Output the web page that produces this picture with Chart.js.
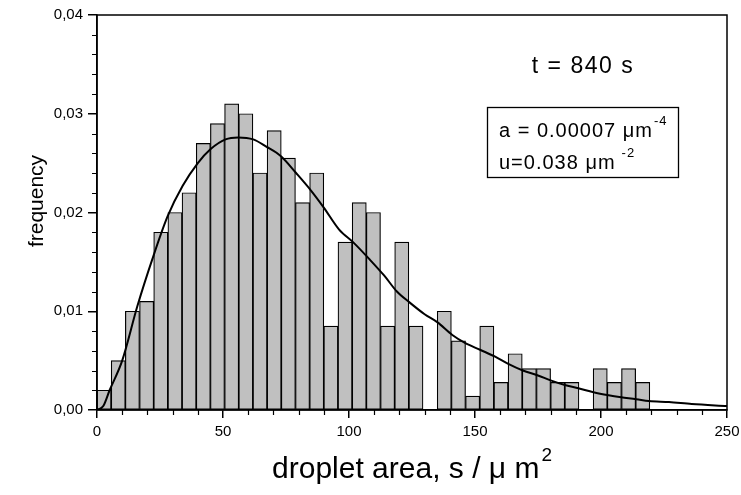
<!DOCTYPE html>
<html lang="en">
<head>
    <meta charset="UTF-8">
    <title>Droplet area distribution, t = 840 s</title>
    <script src="https://cdn.jsdelivr.net/npm/chart.js"></script>
    <style>
        html, body { margin: 0; padding: 0; background: #fff; }
        .chart-wrapper { width: 741px; height: 495px; }
    </style>
</head>
<body>
    <div class="chart-wrapper">
        <canvas id="dropletChart"></canvas>
    </div>

    <script>
        // histogram bins (centre of each bin, s / um^2) and frequencies
        const binCenters = [2.81, 8.44, 14.06, 19.69, 25.31, 30.94, 36.56, 42.19, 47.81, 53.44,
            59.06, 64.69, 70.31, 75.94, 81.56, 87.19, 92.81, 98.44, 104.06, 109.69,
            115.31, 120.94, 126.56, 132.19, 137.81, 143.44, 149.06, 154.69, 160.31, 165.94,
            171.56, 177.19, 182.81, 188.44, 194.06, 199.69, 205.31, 210.94, 216.56];
        const frequency = [0.0020, 0.0050, 0.0100, 0.0110, 0.0180, 0.0200, 0.0220, 0.0270, 0.0290, 0.0310,
            0.0300, 0.0240, 0.0283, 0.0255, 0.0210, 0.0240, 0.0085, 0.0170, 0.0210, 0.0200,
            0.0085, 0.0170, 0.0085, 0, 0.0100, 0.0070, 0.0014, 0.0085, 0.0028, 0.0057,
            0.0042, 0.0042, 0.0028, 0.0028, 0, 0.0042, 0.0028, 0.0042, 0.0028];

        // fitted curve
        const fitX = [0, 2.5, 5, 10, 16, 22, 28, 34, 40, 45, 51, 56, 62, 67, 73, 79, 85, 90, 96, 102,
            108, 114, 119, 124, 130, 135, 141, 146, 152, 158, 163, 169, 175, 180, 186, 191,
            197, 203, 208, 214, 219, 227, 236, 250];
        const fitY = [0, 0.0004, 0.0020, 0.0050, 0.0105, 0.0153, 0.0196, 0.0227, 0.0250, 0.0264, 0.0274, 0.0276,
            0.0274, 0.0267, 0.0257, 0.0240, 0.0222, 0.0205, 0.0183, 0.0169,
            0.0153, 0.0136, 0.0120, 0.0109, 0.0097, 0.0089, 0.0076, 0.0068, 0.0061, 0.0054,
            0.0047, 0.0040, 0.0035, 0.0030, 0.0025, 0.0022, 0.0018, 0.0015, 0.0013, 0.0011,
            0.0009, 0.0008, 0.0006, 0.0004];

        const xTicks = { min: 0, max: 250, step: 50, minorStep: 10 };
        const yTicks = { min: 0, max: 0.04, step: 0.01, minorStep: 0.002 };

        const FONT = '"Liberation Sans", Arial, sans-serif';

        // text with a raised exponent
        function supText(ctx, main, sup, x, y, size, supSize, rise, gap, align, spacing) {
            ctx.letterSpacing = (spacing || 0) + 'px';
            ctx.font = size + 'px ' + FONT;
            const w1 = ctx.measureText(main).width;
            ctx.font = supSize + 'px ' + FONT;
            const w2 = ctx.measureText(sup).width;
            let start = x;
            if (align === 'center') start = x - (w1 + gap + w2) / 2;
            ctx.textAlign = 'left';
            ctx.font = size + 'px ' + FONT;
            ctx.fillText(main, start, y);
            ctx.font = supSize + 'px ' + FONT;
            ctx.fillText(sup, start + w1 + gap, y - rise);
            ctx.letterSpacing = '0px';
        }

        const frameAndText = {
            id: 'frameAndText',
            afterDraw(chart) {
                const { ctx, chartArea: a, scales: { x, y } } = chart;
                ctx.save();
                ctx.strokeStyle = '#000';
                ctx.fillStyle = '#000';

                // box round the plot
                ctx.lineWidth = 1.5;
                ctx.strokeRect(a.left, a.top, a.right - a.left, a.bottom - a.top);

                // minor ticks
                ctx.lineWidth = 1.2;
                ctx.beginPath();
                for (let v = xTicks.min; v <= xTicks.max; v += xTicks.minorStep) {
                    if (v % xTicks.step === 0) continue;
                    const px = Math.round(x.getPixelForValue(v)) + 0.5;
                    ctx.moveTo(px, a.bottom);
                    ctx.lineTo(px, a.bottom + 5);
                }
                for (let i = 1; i < 20; i++) {
                    if (i % 5 === 0) continue;
                    const py = Math.round(y.getPixelForValue(i * yTicks.minorStep)) + 0.5;
                    ctx.moveTo(a.left, py);
                    ctx.lineTo(a.left - 5, py);
                }
                ctx.stroke();

                // axis titles
                ctx.textBaseline = 'alphabetic';
                supText(ctx, 'droplet area, s / \u03bc m', '2', (a.left + a.right) / 2, 478, 30, 19, 17, 2, 'center');

                ctx.save();
                ctx.translate(43, 201);
                ctx.rotate(-Math.PI / 2);
                ctx.font = '21px ' + FONT;
                ctx.textAlign = 'center';
                ctx.fillText('frequency', 0, 0);
                ctx.restore();

                // time label
                ctx.letterSpacing = '1.5px';
                ctx.font = '23px ' + FONT;
                ctx.textAlign = 'center';
                ctx.fillText('t = 840 s', 583, 73);
                ctx.letterSpacing = '0px';

                // parameter box
                ctx.lineWidth = 1.3;
                ctx.strokeRect(487.5, 107.5, 191, 70);
                supText(ctx, 'a = 0.00007 \u03bcm', '-4', 499, 137, 20, 13, 12, 1, 'left', 1);
                supText(ctx, 'u=0.038 \u03bcm', '-2', 499, 169, 20, 13, 12, 6, 'left', 1);

                ctx.restore();
            }
        };

        new Chart(document.getElementById('dropletChart').getContext('2d'), {
            data: {
                datasets: [{
                    type: 'line',
                    data: fitX.map((v, i) => ({ x: v, y: fitY[i] })),
                    borderColor: '#000',
                    borderWidth: 2,
                    pointRadius: 0,
                    cubicInterpolationMode: 'monotone',
                    order: 0
                }, {
                    type: 'bar',
                    data: binCenters.map((v, i) => ({ x: v, y: frequency[i] })),
                    backgroundColor: '#c0c0c0',
                    borderColor: '#000',
                    borderWidth: 1.2,
                    borderSkipped: false,
                    barPercentage: 1,
                    categoryPercentage: 1,
                    order: 1
                }]
            },
            options: {
                responsive: true,
                maintainAspectRatio: false,
                animation: false,
                layout: { padding: { left: 0, top: 15, right: 14, bottom: 0 } },
                plugins: { legend: { display: false }, tooltip: { enabled: false } },
                scales: {
                    x: {
                        type: 'linear',
                        offset: false,
                        min: xTicks.min,
                        max: xTicks.max,
                        afterFit: s => { s.height = 85; s.paddingLeft = 0; s.paddingRight = 0; },
                        grid: { offset: false, drawOnChartArea: false, tickLength: 8, color: '#000', lineWidth: 1.5 },
                        border: { color: '#000', width: 1.5 },
                        ticks: {
                            stepSize: xTicks.step,
                            padding: 5,
                            color: '#000',
                            maxRotation: 0,
                            font: { family: FONT, size: 15 }
                        }
                    },
                    y: {
                        min: yTicks.min,
                        max: yTicks.max,
                        afterFit: s => { s.width = 97; s.paddingTop = 0; s.paddingBottom = 0; },
                        grid: { drawOnChartArea: false, tickLength: 9, color: '#000', lineWidth: 1.5 },
                        border: { color: '#000', width: 1.5 },
                        ticks: {
                            stepSize: yTicks.step,
                            padding: 5,
                            color: '#000',
                            font: { family: FONT, size: 15 },
                            callback: v => v.toFixed(2).replace('.', ',')
                        }
                    }
                }
            },
            plugins: [frameAndText]
        });
    </script>
</body>
</html>
